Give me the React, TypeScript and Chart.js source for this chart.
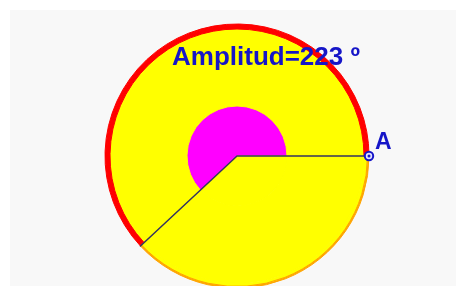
import React, { useEffect, useRef } from "react";
import { Chart, registerables } from "chart.js";

Chart.register(...registerables);

// ---- data ----
const sliceLabels = ["Amplitud", "Resto"];
const sliceValues = [223, 137]; // degrees
const titleText = "Amplitud=223 º";
const pointLabel = "A";

// ---- styles ----
const RED = "#ff0000";
const ORANGE = "#ffa500";
const YELLOW = "#ffff00";
const MAGENTA = "#ff00ff";
const BLUE = "#1616c8";
const LINE = "#333360";

const ring = (colors: string[], weight: number) => ({
  data: sliceValues,
  backgroundColor: colors,
  borderColor: colors,
  borderWidth: 1,
  hoverBorderWidth: 1,
  hoverOffset: 0,
  offset: 0,
  weight,
});

const decorPlugin = {
  id: "decor",
  beforeDraw(chart: any) {
    const ctx = chart.ctx;
    ctx.save();
    ctx.fillStyle = "#ffffff";
    ctx.fillRect(0, 0, chart.width, chart.height);
    ctx.fillStyle = "#f8f8f8";
    ctx.fillRect(10, 10, chart.width - 10, chart.height - 10);
    ctx.restore();
  },
  afterDatasetsDraw(chart: any) {
    const ctx = chart.ctx;
    const meta = chart.getDatasetMeta(0);
    const arc = meta.data[0] as any;
    const { x, y, startAngle, endAngle, outerRadius } = arc.getProps(
      ["x", "y", "startAngle", "endAngle", "outerRadius"],
      true
    );
    const R = outerRadius;
    const bx = x + R * Math.cos(startAngle);
    const by = y + R * Math.sin(startAngle);
    const ax = x + R * Math.cos(endAngle);
    const ay = y + R * Math.sin(endAngle);
    ctx.save();
    ctx.strokeStyle = LINE;
    ctx.lineWidth = 1.5;
    ctx.lineCap = "round";
    ctx.lineJoin = "round";
    ctx.beginPath();
    ctx.moveTo(bx, by);
    ctx.lineTo(x, y);
    ctx.lineTo(ax, ay);
    ctx.stroke();

    // point A
    ctx.beginPath();
    ctx.arc(ax, ay, 4.2, 0, Math.PI * 2);
    ctx.fillStyle = "#e0e0ff";
    ctx.fill();
    ctx.lineWidth = 2;
    ctx.strokeStyle = BLUE;
    ctx.stroke();
    ctx.beginPath();
    ctx.arc(ax, ay, 1.5, 0, Math.PI * 2);
    ctx.fillStyle = BLUE;
    ctx.fill();

    // label A
    ctx.fillStyle = BLUE;
    ctx.font = "bold 23px 'Liberation Sans', Arial, sans-serif";
    ctx.textAlign = "left";
    ctx.textBaseline = "alphabetic";
    ctx.fillText(pointLabel, ax + 6, ay - 7);

    // title text
    ctx.font = "bold 26px 'Liberation Sans', Arial, sans-serif";
    ctx.fillText(titleText, x - 65, y - 91);
    ctx.restore();
  },
};

export default function App() {
  const ref = useRef<HTMLCanvasElement | null>(null);
  useEffect(() => {
    if (!ref.current) return;
    const chart = new Chart(ref.current, {
      type: "pie",
      data: {
        labels: sliceLabels,
        datasets: [
          ring([RED, ORANGE], 1.5),
          ring([RED, YELLOW], 3.5),
          ring([YELLOW, YELLOW], 77),
          ring([MAGENTA, YELLOW], 50),
        ] as any,
      },
      options: {
        responsive: false,
        animation: false,
        events: [],
        devicePixelRatio: 1,
        rotation: 227,
        radius: 132,
        layout: { padding: { left: 105, right: 87, top: 24, bottom: 12 } },
        plugins: {
          legend: { display: false },
          tooltip: { enabled: false },
          title: { display: false },
        },
      } as any,
      plugins: [decorPlugin],
    });
    return () => chart.destroy();
  }, []);
  return (
    <div
      style={{
        position: "fixed",
        left: 0,
        top: 0,
        width: 456,
        height: 286,
        overflow: "hidden",
        background: "#fff",
      }}
    >
      <canvas
        ref={ref}
        width={456}
        height={300}
        style={{ display: "block", width: 456, height: 300 }}
      />
    </div>
  );
}
